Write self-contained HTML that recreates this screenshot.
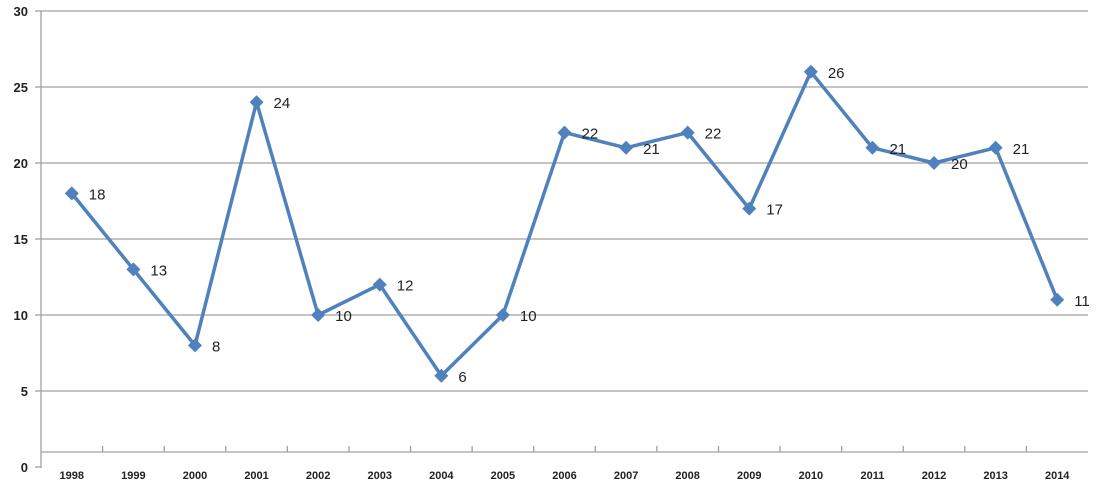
<!DOCTYPE html>
<html><head><meta charset="utf-8"><style>
body{margin:0;background:#fff;}
svg{display:block;font-family:"Liberation Sans",Arial,sans-serif;}
</style></head><body>
<svg id="chart" width="1100" height="490">
<g id="grid"></g>
<g id="yaxis"></g>
<g id="xaxis"></g>
<g id="series"></g>
</svg>
<script>
const categories=["1998","1999","2000","2001","2002","2003","2004","2005","2006","2007","2008","2009","2010","2011","2012","2013","2014"];
const values=[18,13,8,24,10,12,6,10,22,21,22,17,26,21,20,21,11];
const yTicks=[0,5,10,15,20,25,30];
const NS="http://www.w3.org/2000/svg";
const x0=41,x1=1088,yBase=467,yTop=11,yMax=30;
const bw=(x1-x0)/categories.length;
const X=i=>x0+bw*(i+0.5);
const Y=v=>yBase-(v/yMax)*(yBase-yTop);
function mk(tag,attrs,parent,txt){const e=document.createElementNS(NS,tag);for(const k in attrs)e.setAttribute(k,attrs[k]);if(txt!==undefined)e.textContent=txt;parent.appendChild(e);return e;}
const grid=document.getElementById('grid'),ya=document.getElementById('yaxis'),xa=document.getElementById('xaxis'),se=document.getElementById('series');
yTicks.forEach(t=>{
  if(t>0){const l=mk('line',{x1:x0,x2:x1,y1:Y(t),y2:Y(t),stroke:'#a0a0a0','stroke-width':1.3},grid);
  
  }
  const tk=mk('line',{x1:x0-6,x2:x0,y1:Y(t),y2:Y(t),stroke:'#a0a0a0','stroke-width':1.3},ya);
  
  
  const tx=mk('text',{x:28,y:Y(t)+5,'text-anchor':'end','font-size':13,'font-weight':'bold',fill:'#222'},ya,String(t));
  
  
});
const al=mk('line',{x1:x0,x2:x0,y1:yTop,y2:yBase+1,stroke:'#a0a0a0','stroke-width':1.3},ya);


const xl=mk('line',{x1:x0,x2:x1,y1:452,y2:452,stroke:'#a0a0a0','stroke-width':1.3},xa);


categories.forEach((c,i)=>{
  if(i>0){const t=mk('line',{x1:x0+bw*i,x2:x0+bw*i,y1:446,y2:452,stroke:'#a0a0a0','stroke-width':1.3},xa);
  
  }
  const tx=mk('text',{x:X(i),y:479,'text-anchor':'middle','font-size':11,'font-weight':'bold',fill:'#222'},xa,c);
  
  
});
const pts=values.map((v,i)=>X(i)+','+Y(v)).join(' ');
const pl=mk('polyline',{points:pts,fill:'none',stroke:'#4f81bd','stroke-width':3.5,'stroke-linejoin':'round'},se);


values.forEach((v,i)=>{
  const x=X(i),y=Y(v);
  const m=mk('polygon',{points:`${x},${y-7} ${x+7},${y} ${x},${y+7} ${x-7},${y}`,fill:'#4f81bd'},se);
  
  
  const t=mk('text',{x:x+17,y:y+6,'font-size':15,fill:'#222'},se,String(v));
  
  
});
</script>
</body></html>
